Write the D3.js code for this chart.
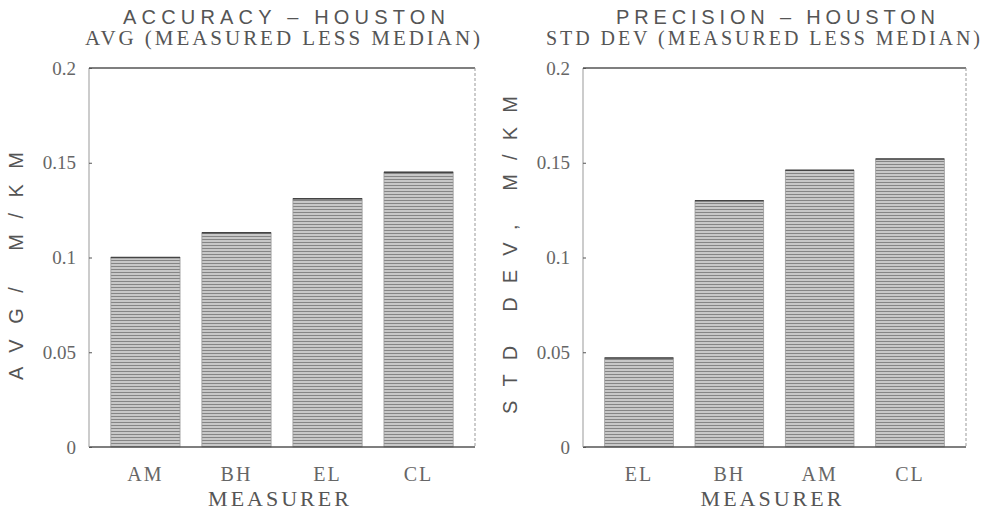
<!DOCTYPE html>
<html>
<head>
    <title>Accuracy / Precision - Houston</title>
    <style>
        body { margin: 0; background: #fff; overflow: hidden; }
        .title { font-family: "Liberation Sans", Arial, sans-serif; fill: #555; }
        .serif { font-family: "Liberation Serif", "Times New Roman", serif; fill: #555; }
        .axis text { font-family: "Liberation Serif", serif; font-size: 19px; fill: #666; }
        .axis line { stroke: #555; }
        .axis path { display: none; }
    </style>
</head>
<body>
<div id="chart"></div>
<script src="https://d3js.org/d3.v7.min.js"></script>
<script>
    // data
    const accCategories = ["AM", "BH", "EL", "CL"];
    const accValues = [0.100, 0.113, 0.131, 0.145];
    const precCategories = ["EL", "BH", "AM", "CL"];
    const precValues = [0.047, 0.130, 0.146, 0.152];
    const yTicks = [0, 0.05, 0.1, 0.15, 0.2];

    const svg = d3.select("#chart").append("svg")
        .attr("width", 986)
        .attr("height", 510);

    // hatched grey fill like the scanned bars
    const pat = svg.append("defs").append("pattern")
        .attr("id", "hatch")
        .attr("patternUnits", "userSpaceOnUse")
        .attr("width", 6)
        .attr("height", 3);
    pat.append("rect").attr("width", 6).attr("height", 3).attr("fill", "#c8c8c8");
    pat.append("rect").attr("y", 2).attr("width", 6).attr("height", 1).attr("fill", "#858585");

    function drawPanel(opt) {
        const x0 = opt.left, x1 = opt.right, top = 68, bottom = 447;
        const g = svg.append("g");

        const x = d3.scaleBand()
            .domain(opt.categories)
            .range([x0, x1])
            .paddingInner(0.24)
            .paddingOuter(0.24);

        const y = d3.scaleLinear()
            .domain([0, 0.2])
            .range([bottom, top]);

        // titles
        g.append("text")
            .attr("class", "title")
            .attr("x", opt.titleX)
            .attr("y", 24)
            .attr("textLength", opt.titleLen)
            .attr("lengthAdjust", "spacing")
            .style("font-size", "20px")
            .text(opt.title);

        g.append("text")
            .attr("class", "serif")
            .attr("x", opt.subX)
            .attr("y", 45)
            .attr("textLength", opt.subLen)
            .attr("lengthAdjust", "spacing")
            .style("font-size", opt.subSize)
            .text(opt.subtitle);

        // bars
        g.selectAll(".bar")
            .data(opt.values)
            .enter()
            .append("rect")
            .attr("class", "bar")
            .attr("x", (d, i) => x(opt.categories[i]))
            .attr("y", d => y(d))
            .attr("width", x.bandwidth())
            .attr("height", d => bottom - y(d))
            .attr("fill", "url(#hatch)")
            .attr("stroke", "#999")
            .attr("stroke-width", 0.8);

        g.selectAll(".bartop")
            .data(opt.values)
            .enter()
            .append("line")
            .attr("x1", (d, i) => x(opt.categories[i]))
            .attr("x2", (d, i) => x(opt.categories[i]) + x.bandwidth())
            .attr("y1", d => y(d))
            .attr("y2", d => y(d))
            .attr("stroke", "#444")
            .attr("stroke-width", 1.5);

        // frame
        g.append("line").attr("x1", x0).attr("x2", x1).attr("y1", top).attr("y2", top)
            .attr("stroke", "#555").attr("stroke-width", 1.6);
        g.append("line").attr("x1", x0).attr("x2", x1).attr("y1", bottom).attr("y2", bottom)
            .attr("stroke", "#555").attr("stroke-width", 1.6);
        g.append("line").attr("x1", x0).attr("x2", x0).attr("y1", top).attr("y2", bottom)
            .attr("stroke", "#999").attr("stroke-width", 1);
        g.append("line").attr("x1", x1).attr("x2", x1).attr("y1", top).attr("y2", bottom)
            .attr("stroke", "#999").attr("stroke-width", 1).attr("stroke-dasharray", "3,2");

        // y axis
        g.append("g")
            .attr("class", "axis")
            .attr("transform", `translate(${x0},0)`)
            .call(d3.axisLeft(y).tickValues(yTicks).tickFormat(d => String(d)).tickSize(-3).tickPadding(13));

        // x axis labels
        g.append("g")
            .attr("class", "axis")
            .attr("transform", `translate(0,${bottom})`)
            .call(d3.axisBottom(x).tickSize(0).tickPadding(20))
            .selectAll("text")
            .style("font-size", "20px")
            .style("letter-spacing", "2px");

        g.append("text")
            .attr("class", "serif")
            .attr("x", (x0 + x1) / 2 - 2)
            .attr("y", 506)
            .attr("text-anchor", "middle")
            .style("font-size", "22px")
            .style("letter-spacing", "3px")
            .text("MEASURER");

        // y label
        g.append("text")
            .attr("class", "title")
            .attr("transform", `translate(${opt.ylabX},${opt.ylabY}) rotate(-90)`)
            .attr("textLength", opt.ylabLen)
            .attr("lengthAdjust", "spacing")
            .style("font-size", "20px")
            .text(opt.ylabel);
    }

    drawPanel({
        left: 89, right: 475,
        categories: accCategories, values: accValues,
        title: "ACCURACY \u2013 HOUSTON", titleX: 123, titleLen: 322,
        subtitle: "AVG (MEASURED LESS MEDIAN)", subX: 85, subLen: 395, subSize: "21px",
        ylabel: "AVG/ M/KM", ylabX: 23, ylabY: 380, ylabLen: 228
    });

    drawPanel({
        left: 583, right: 966,
        categories: precCategories, values: precValues,
        title: "PRECISION \u2013 HOUSTON", titleX: 616, titleLen: 319,
        subtitle: "STD DEV (MEASURED LESS MEDIAN)", subX: 546, subLen: 434, subSize: "20px",
        ylabel: "STD DEV, M/KM", ylabX: 517, ylabY: 414, ylabLen: 318
    });
</script>
</body>
</html>
